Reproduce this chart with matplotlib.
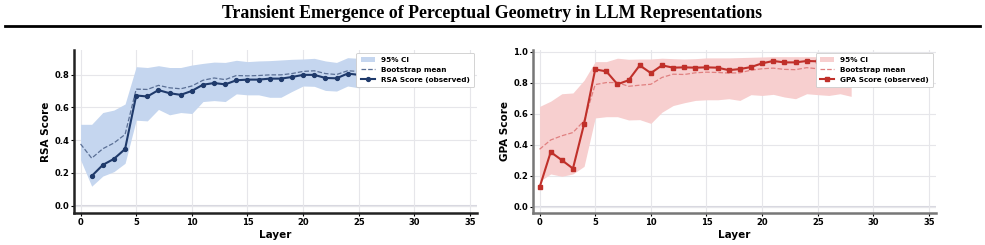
import matplotlib
matplotlib.use("Agg")
import matplotlib.pyplot as plt
import numpy as np

layers = list(range(29))

rsa_obs = [np.nan, 0.18, 0.248, 0.285, 0.345, 0.672, 0.666, 0.705, 0.686, 0.676, 0.70,
           0.738, 0.748, 0.74, 0.765, 0.769, 0.769, 0.775, 0.775, 0.785, 0.798,
           0.798, 0.779, 0.777, 0.806, 0.798, 0.80, 0.81, 0.80]
rsa_mean = [0.376, 0.289, 0.347, 0.382, 0.434, 0.711, 0.709, 0.734, 0.719, 0.713, 0.73,
            0.765, 0.779, 0.769, 0.794, 0.792, 0.794, 0.798, 0.798, 0.806, 0.819,
            0.823, 0.806, 0.80, 0.823, 0.819, 0.82, 0.825, 0.82]
rsa_hi = [0.496, 0.496, 0.568, 0.583, 0.62, 0.848, 0.843, 0.854, 0.843, 0.843, 0.858,
          0.868, 0.876, 0.874, 0.887, 0.879, 0.883, 0.885, 0.889, 0.893, 0.895,
          0.899, 0.883, 0.874, 0.903, 0.899, 0.90, 0.905, 0.90]
rsa_lo = [0.279, 0.118, 0.18, 0.207, 0.258, 0.521, 0.517, 0.587, 0.554, 0.568, 0.562,
          0.635, 0.641, 0.635, 0.682, 0.676, 0.676, 0.661, 0.661, 0.697, 0.73,
          0.728, 0.703, 0.699, 0.73, 0.719, 0.73, 0.735, 0.73]

gpa_obs = [0.124, 0.352, 0.30, 0.246, 0.533, 0.885, 0.872, 0.789, 0.815, 0.911, 0.861,
           0.911, 0.896, 0.898, 0.896, 0.898, 0.896, 0.880, 0.887, 0.90, 0.924,
           0.939, 0.930, 0.930, 0.939, 0.937, 0.94, 0.935, 0.93]
gpa_mean = [0.37, 0.43, 0.457, 0.478, 0.554, 0.787, 0.80, 0.80, 0.776, 0.783, 0.789,
            0.833, 0.854, 0.852, 0.863, 0.867, 0.865, 0.861, 0.863, 0.880, 0.889,
            0.893, 0.885, 0.883, 0.896, 0.889, 0.89, 0.89, 0.89]
gpa_hi = [0.646, 0.68, 0.728, 0.733, 0.815, 0.935, 0.935, 0.957, 0.95, 0.952, 0.952,
          0.957, 0.954, 0.952, 0.954, 0.959, 0.959, 0.959, 0.961, 0.963, 0.965,
          0.967, 0.967, 0.967, 0.967, 0.967, 0.967, 0.967, 0.967]
gpa_lo = [0.163, 0.211, 0.196, 0.211, 0.26, 0.572, 0.58, 0.58, 0.559, 0.561, 0.537,
          0.609, 0.652, 0.67, 0.685, 0.689, 0.689, 0.696, 0.685, 0.722, 0.717,
          0.724, 0.707, 0.696, 0.728, 0.722, 0.717, 0.728, 0.711]

title = "Transient Emergence of Perceptual Geometry in LLM Representations"

fig = plt.figure(figsize=(9.85, 2.45), dpi=100)
fig.text(0.5, 0.943, title, ha="center", va="center", fontsize=12.8,
         fontweight="bold", family="Liberation Serif")
fig.add_artist(plt.Line2D([0.005, 0.995], [0.893, 0.893], color="black", lw=2,
                          transform=fig.transFigure))

specs = [
    dict(pos=[0.075, 0.131, 0.409, 0.665], obs=rsa_obs, mean=rsa_mean, hi=rsa_hi, lo=rsa_lo,
         band="#c5d6ef", line="#1f3a6b", meanc="#5a6f95", marker="o", ms=2.8,
         ylabel="RSA Score", label="RSA Score (observed)", ylim=(-0.045, 0.95),
         yticks=[0.0, 0.2, 0.4, 0.6, 0.8], spine="#222222"),
    dict(pos=[0.541, 0.131, 0.409, 0.665], obs=gpa_obs, mean=gpa_mean, hi=gpa_hi, lo=gpa_lo,
         band="#f7cfcf", line="#c0302a", meanc="#e08080", marker="s", ms=3.0,
         ylabel="GPA Score", label="GPA Score (observed)", ylim=(-0.04, 1.01),
         yticks=[0.0, 0.2, 0.4, 0.6, 0.8, 1.0], spine="#777777"),
]

for s in specs:
    ax = fig.add_axes(s["pos"])
    ax.fill_between(layers, s["lo"], s["hi"], color=s["band"], lw=0, label="95% CI")
    ax.plot(layers, s["mean"], ls="--", lw=0.9, color=s["meanc"], label="Bootstrap mean")
    ax.plot(layers, s["obs"], color=s["line"], lw=1.5, marker=s["marker"], ms=s["ms"],
            label=s["label"])
    ax.axhline(0, color="#d8d8e0", lw=1.5, zorder=0)
    ax.set_xlim(-0.6, 35.6)
    ax.set_ylim(*s["ylim"])
    ax.set_xticks([0, 5, 10, 15, 20, 25, 30, 35])
    ax.set_yticks(s["yticks"])
    ax.set_yticklabels([f"{v:.1f}" for v in s["yticks"]])
    ax.grid(True, color="#e6e6ea", lw=0.8)
    ax.set_axisbelow(True)
    for sp in ["top", "right"]:
        ax.spines[sp].set_visible(False)
    for sp in ["left", "bottom"]:
        ax.spines[sp].set_linewidth(1.8)
        ax.spines[sp].set_color(s["spine"])
    ax.tick_params(labelsize=6, length=2, width=0.8, pad=1.5)
    for t in ax.get_xticklabels() + ax.get_yticklabels():
        t.set_fontweight("bold")
    ax.set_xlabel("Layer", fontsize=7.5, fontweight="bold", labelpad=2)
    ax.set_ylabel(s["ylabel"], fontsize=7.5, fontweight="bold", labelpad=2)
    leg = ax.legend(loc="upper right", prop=dict(size=5.2, weight="bold"), frameon=True,
                    framealpha=1.0, borderpad=0.6, labelspacing=0.55, handlelength=2.0,
                    borderaxespad=0.35, fancybox=True)
    leg.get_frame().set_linewidth(0.6)

fig.savefig("out.png", dpi=100)
